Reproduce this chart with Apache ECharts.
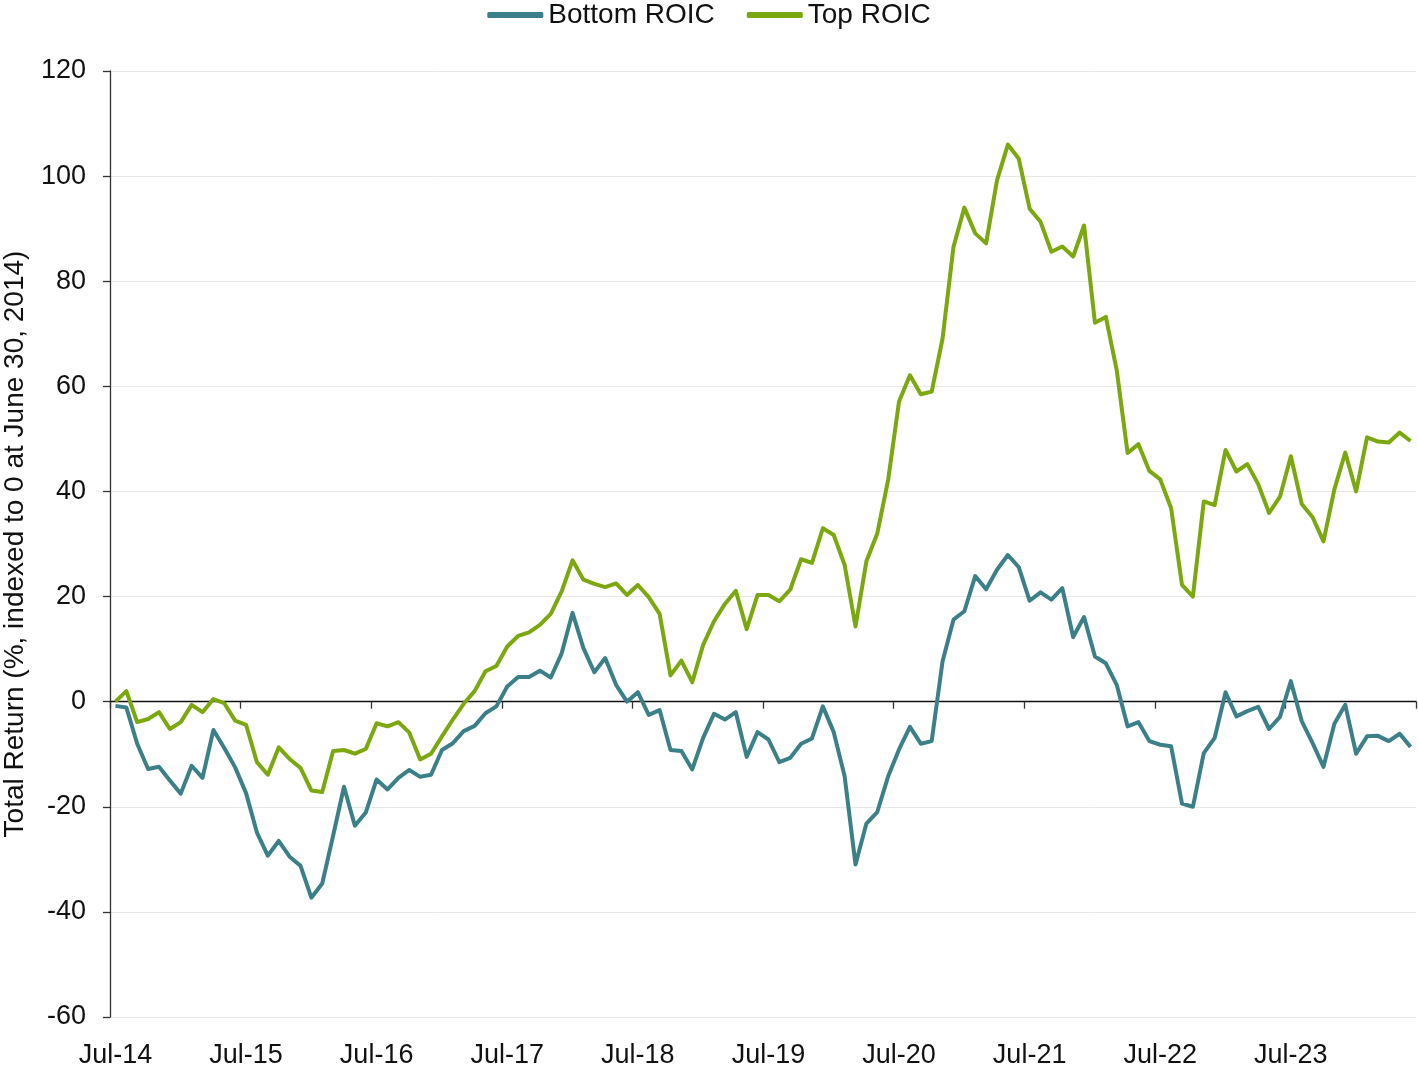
<!DOCTYPE html>
<html>
<head>
<meta charset="utf-8">
<title>Top vs Bottom ROIC</title>
<script src="https://cdn.jsdelivr.net/npm/echarts@6/dist/echarts.min.js"></script>
<style>
  html, body { margin: 0; padding: 0; background: #fff; }
  #main { width: 1418px; height: 1069px; }
</style>
</head>
<body>
<div id="main"></div>
<script>
// monthly points, Jul-14 .. Jun-24
const monthNames = ["Jul", "Aug", "Sep", "Oct", "Nov", "Dec", "Jan", "Feb", "Mar", "Apr", "May", "Jun"]
const months = []
for (let i = 0; i < 120; i++) {
  const yr = 14 + Math.floor((i + 6) / 12)
  months.push(monthNames[i % 12] + "-" + yr)
}

const bottomRoic = [
  -0.8, -1.1, -8.0, -12.8, -12.4, -15.0, -17.5, -12.2, -14.5, -5.4, -8.8, -12.5,
  -17.4, -24.9, -29.3, -26.5, -29.5, -31.2, -37.3, -34.6, -25.5, -16.2, -23.6, -21.1,
  -14.8, -16.7, -14.5, -13.0, -14.3, -13.9, -9.2, -7.9, -5.6, -4.6, -2.2, -0.9,
  2.9, 4.7, 4.7, 5.9, 4.6, 9.2, 16.9, 10.2, 5.6, 8.3, 3.2, 0.0,
  1.8, -2.5, -1.6, -9.2, -9.4, -12.9, -6.9, -2.3, -3.4, -2.0, -10.5, -5.8,
  -7.2, -11.5, -10.7, -8.0, -7.0, -0.9, -5.8, -14.2, -31.0, -23.2, -21.0, -14.2,
  -9.1, -4.8, -8.0, -7.5, 7.7, 15.6, 17.2, 23.9, 21.4, 25.1, 27.9, 25.6,
  19.2, 20.8, 19.4, 21.6, 12.3, 16.1, 8.6, 7.3, 3.2, -4.7, -3.9, -7.5,
  -8.2, -8.5, -19.4, -20.0, -9.8, -6.9, 1.8, -2.8, -1.8, -1.0, -5.2, -2.9,
  3.9, -3.7, -7.9, -12.4, -4.2, -0.6, -9.9, -6.6, -6.5, -7.5, -6.1, -8.6
]

const topRoic = [
  0.0, 2.0, -3.9, -3.3, -2.0, -5.2, -3.9, -0.6, -2.0, 0.5, -0.3, -3.6,
  -4.4, -11.5, -13.9, -8.7, -10.9, -12.6, -16.9, -17.2, -9.4, -9.2, -9.9, -9.0,
  -4.1, -4.7, -3.9, -5.9, -11.0, -9.9, -6.6, -3.4, -0.4, 2.0, 5.8, 6.8,
  10.5, 12.5, 13.2, 14.6, 16.7, 21.0, 26.9, 23.2, 22.4, 21.8, 22.5, 20.3,
  22.2, 19.9, 16.7, 5.0, 7.8, 3.7, 10.8, 15.3, 18.6, 21.1, 13.8, 20.3,
  20.3, 19.1, 21.3, 27.1, 26.4, 33.0, 31.7, 26.0, 14.3, 26.7, 32.0, 42.2,
  57.1, 62.1, 58.5, 59.0, 69.1, 86.5, 94.0, 89.1, 87.2, 99.2, 106.0, 103.3,
  93.8, 91.3, 85.6, 86.6, 84.7, 90.6, 72.1, 73.2, 63.1, 47.3, 49.0, 43.9,
  42.3, 36.8, 22.2, 20.0, 38.1, 37.4, 47.9, 43.8, 45.2, 41.4, 35.9, 39.0,
  46.7, 37.6, 35.1, 30.5, 40.4, 47.4, 40.0, 50.3, 49.5, 49.3, 51.2, 49.6
]

const seriesNames = ["Bottom ROIC", "Top ROIC"]
const colors = ["#3b8089", "#7ba70f"]
const font = "'Liberation Sans', Arial, sans-serif"

const chart = echarts.init(document.getElementById("main"))

const option = {
  backgroundColor: "#fff",
  animation: false,
  color: colors,
  legend: {
    top: 1,
    left: "center",
    padding: [0, 5],
    icon: "roundRect",
    itemWidth: 56,
    itemHeight: 6,
    itemGap: 32,
    textStyle: { fontFamily: font, fontSize: 28, color: "#111" },
    data: seriesNames
  },
  grid: { left: 110, right: 2, top: 71, bottom: 52, outerBoundsMode: "none", containLabel: false },
  xAxis: [
    {
      // labels along the bottom
      type: "category",
      data: months,
      boundaryGap: true,
      axisLine: { show: false, onZero: false },
      axisTick: { show: false },
      axisLabel: {
        interval: 11,
        margin: 25,
        fontFamily: font,
        fontSize: 27,
        color: "#111"
      },
      splitLine: { show: false }
    },
    {
      // black line + ticks at zero
      type: "category",
      data: months,
      position: "bottom",
      boundaryGap: true,
      axisLine: { show: true, onZero: true, lineStyle: { color: "#111", width: 1.3 } },
      axisTick: { show: true, interval: 11, length: 7, lineStyle: { color: "#333", width: 1.3 } },
      axisLabel: { show: false },
      splitLine: { show: false }
    }
  ],
  yAxis: {
    type: "value",
    min: -60,
    max: 120,
    interval: 20,
    name: "Total Return (%, indexed to 0 at June 30, 2014)",
    nameLocation: "middle",
    nameGap: 81,
    nameTextStyle: { fontFamily: font, fontSize: 28, color: "#111" },
    axisLine: { show: true, lineStyle: { color: "#333", width: 1.3 } },
    axisTick: { show: true, length: 7, lineStyle: { color: "#333", width: 1.3 } },
    axisLabel: { margin: 24, fontFamily: font, fontSize: 27, color: "#111" },
    splitLine: { show: true, lineStyle: { color: "#e8e8e8", width: 1 } }
  },
  series: [
    {
      name: seriesNames[0],
      type: "line",
      xAxisIndex: 0,
      data: bottomRoic,
      symbol: "none",
      lineStyle: { width: 4, color: colors[0], join: "round" },
      z: 3
    },
    {
      name: seriesNames[1],
      type: "line",
      xAxisIndex: 0,
      data: topRoic,
      symbol: "none",
      lineStyle: { width: 4, color: colors[1], join: "round" },
      z: 2
    }
  ]
}

chart.setOption(option)
</script>
</body>
</html>
